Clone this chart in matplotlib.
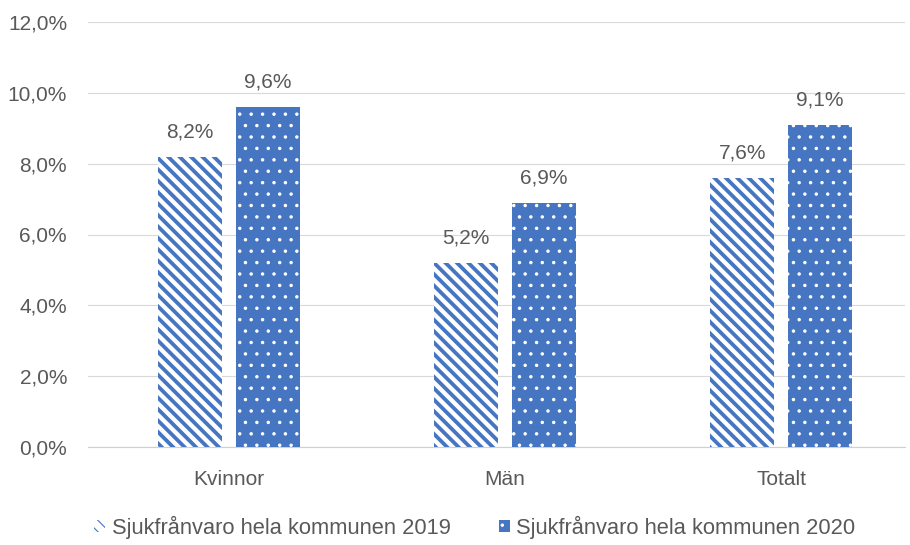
#!/usr/bin/env python3
# sjukfranvaro 2019 vs 2020, grouped bars
import numpy as np
import matplotlib
matplotlib.use('Agg')
import matplotlib.pyplot as plt
from matplotlib.ticker import FuncFormatter

categories = ['Kvinnor', 'Män', 'Totalt']
values_2019 = [8.2, 5.2, 7.6]
values_2020 = [9.6, 6.9, 9.1]
series_names = ['Sjukfrånvaro hela kommunen 2019', 'Sjukfrånvaro hela kommunen 2020']
yticks = [0, 2, 4, 6, 8, 10, 12]

blue = '#4676C2'
textc = '#595959'

plt.rcParams['font.family'] = ['Liberation Sans', 'DejaVu Sans']
plt.rcParams['font.size'] = 11

DPI = 137
fig = plt.figure(figsize=(910 / DPI, 545 / DPI), dpi=DPI)
ax = fig.add_axes([88 / 910, 1 - 447 / 545, (905 - 88) / 910, (447 - 22) / 545])

x = np.arange(len(categories))
w = 0.232
off = 0.141

plt.rcParams['hatch.linewidth'] = 2.0
b1 = ax.bar(x - off, values_2019, w, facecolor='white', edgecolor=blue,
            hatch='\\\\\\\\', linewidth=0, label=series_names[0], zorder=3)
plt.rcParams['hatch.linewidth'] = 0.6
b2 = ax.bar(x + off, values_2020, w, facecolor=blue, edgecolor='white',
            hatch='..', linewidth=0, label=series_names[1], zorder=3)

for bars, vals in ((b1, values_2019), (b2, values_2020)):
    for rect, v in zip(bars, vals):
        ax.annotate(('%.1f%%' % v).replace('.', ','),
                    (rect.get_x() + rect.get_width() / 2, v),
                    xytext=(0, 8), textcoords='offset points',
                    ha='center', va='bottom', color=textc, fontsize=11)

ax.set_ylim(0, 12)
ax.set_xlim(-0.511, 2.449)
ax.set_yticks(yticks)
ax.yaxis.set_major_formatter(FuncFormatter(lambda v, p: ('%.1f%%' % v).replace('.', ',')))
ax.set_xticks(x)
ax.set_xticklabels(categories)
ax.tick_params(axis='both', length=0, colors=textc, labelsize=11)
ax.tick_params(axis='x', pad=12)
ax.tick_params(axis='y', pad=11)
ax.grid(axis='y', color='#D9D9D9', linewidth=0.6, zorder=0)
ax.set_axisbelow(True)
for s in ['left', 'right', 'top']:
    ax.spines[s].set_visible(False)
ax.spines['bottom'].set_color('#D0D0D0')
ax.spines['bottom'].set_linewidth(0.6)

fig.legend(loc='center', bbox_to_anchor=(0.522, 0.033), ncol=2, frameon=False,
           handlelength=0.5, handleheight=0.5, handletextpad=0.3,
           columnspacing=2.2, fontsize=11.5, labelcolor=textc)

fig.savefig('out.png', dpi=DPI)
